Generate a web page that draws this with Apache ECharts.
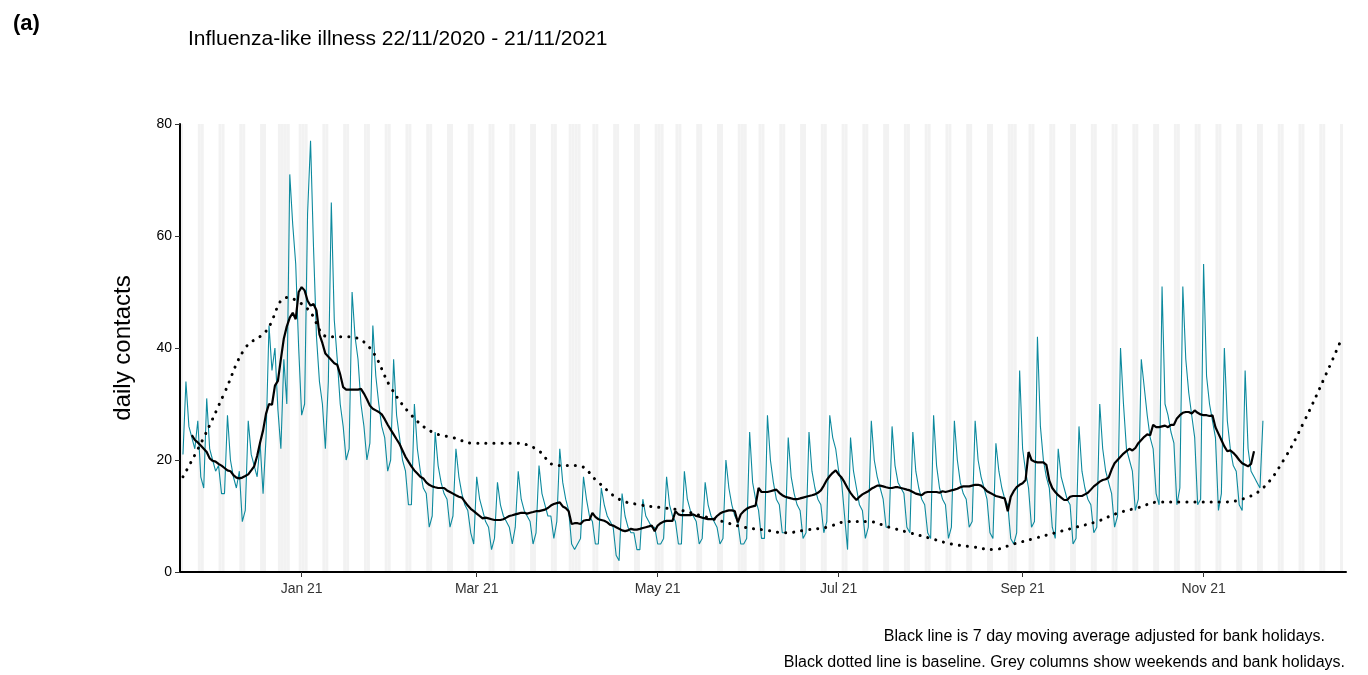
<!DOCTYPE html>
<html>
<head>
<meta charset="utf-8">
<script src="https://cdn.jsdelivr.net/npm/echarts@6/dist/echarts.min.js"></script>
<style>html,body{margin:0;padding:0;background:#fff;}#chart{width:1368px;height:675px;}</style>
</head>
<body>
<div id="chart"></div>
<script>
// daily contacts, Sun..Sat per week, from 22/11/2020
var dailyContacts = [
  21,34,26,24,22,27,17,  15,31,22,20,18,19,14,  14,28,20,17,15,18,9,   11,27,21,19,17,23,14,
  24,44,36,40,29,22,38,  30,71,62,55,40,28,30,  64,77,58,42,34,30,22,  34,66,45,38,30,26,20,
  22,50,42,38,30,26,20,  23,44,35,30,26,24,18,  20,38,28,24,20,18,12,  12,30,22,18,15,14,8,
  10,25,19,16,14,13,8,   10,22,17,14,12,11,7,   5,17,13,11,9,8,4,      6,16,12,10,9,8,5,
  8,18,13,11,10,9,5,     7,19,14,12,10,10,6,    9,22,16,13,11,5,4,     5,6,17,13,10,9,5,
  5,15,12,10,9,8,3,      2,14,10,8,7,7,4,       4,13,10,9,8,8,5,       5,6,17,12,10,9,5,
  5,18,13,11,10,9,5,     6,16,12,10,9,8,5,      6,20,15,12,10,9,5,     5,6,25,16,13,11,6,
  6,28,20,16,13,12,7,    7,24,17,14,12,11,6,    7,25,18,15,13,12,7,    9,28,24,22,18,16,10,
  4,24,18,15,12,11,6,    8,27,20,17,15,13,8,    8,26,19,16,15,14,8,    7,25,18,15,13,12,7,
  6,28,19,15,13,12,6,    8,27,20,16,14,13,8,    9,27,20,17,15,13,7,    6,23,18,15,13,12,6,
  5,7,36,22,18,15,8,     9,42,26,20,17,15,8,    6,22,17,15,13,12,5,    6,26,18,15,13,12,7,
  8,30,22,18,16,14,8,    10,40,30,22,20,18,11,  13,38,33,28,24,22,14,  12,51,30,28,25,23,12,
  15,51,38,32,28,24,12,  13,55,35,30,27,24,11,  14,40,27,22,19,18,12,  11,36,22,18,17,16,15,
  27
];
// baseline, weekly from 22/11/2020 (last point 17/12/2021)
var baselineWeekly = [17,24,32,40,43,49,47,42,42,40,33,28,25,24,23,23,23,22,19,19,16,13,12,11.5,11,10,9,8,
  7.5,7,7.5,8,9,9,8,7,6,5,4.5,4,5,6,7,8,9,10.5,11.5,12.5,12.5,12.5,12.5,13,15,20,27,35];
var baselineLast = ['2021-12-17', 41];
var bankHolidays = ['2020-12-25','2020-12-28','2021-01-01','2021-04-02','2021-04-05','2021-05-03','2021-05-31','2021-08-30'];
var monthLabels = {'2021-01-01':'Jan 21','2021-03-01':'Mar 21','2021-05-01':'May 21','2021-07-01':'Jul 21','2021-09-01':'Sep 21','2021-11-01':'Nov 21'};

function fmt(d){ return d.toISOString().slice(0,10); }
var days = [], shadeDays = [];
var start = Date.UTC(2020,10,21), end = Date.UTC(2021,11,19);
for (var t = start; t <= end; t += 86400000) {
  var d = new Date(t), s = fmt(d);
  days.push(s);
  if (d.getUTCDay() === 0 || d.getUTCDay() === 6 || bankHolidays.indexOf(s) >= 0) shadeDays.push(days.length - 1);
}
var shade = shadeDays.filter(function(i){ return i > 0 && i < days.length - 1; })
  .map(function(i){ return [{xAxis:days[i-1]},{xAxis:days[i]}]; });
var off = 1; // data starts at 22/11/2020
var raw = [], ma = [], base = [];
dailyContacts.forEach(function(v,i){ raw.push([days[i+off], v]); });
for (var i = 3; i < dailyContacts.length - 3; i++) {
  var sum = 0; for (var k = -3; k <= 3; k++) sum += dailyContacts[i+k];
  ma.push([days[i+off], +(sum/7).toFixed(2)]);
}
baselineWeekly.forEach(function(v,i){ base.push([days[i*7+off], v]); });
base.push(baselineLast);

var chart = echarts.init(document.getElementById('chart'));
chart.setOption({
  animation:false,
  textStyle:{fontFamily:'Liberation Sans, Arial, sans-serif'},
  title:[
    {text:'(a)', left:8, top:8, textStyle:{fontSize:22, fontWeight:'bold', color:'#000'}},
    {text:'Influenza-like illness 22/11/2020 - 21/11/2021', left:183, top:24, textStyle:{fontSize:21, fontWeight:'normal', color:'#000'}},
    {text:'Black line is 7 day moving average adjusted for bank holidays.', right:38, top:624, textStyle:{fontSize:16, fontWeight:'normal', color:'#000'}},
    {text:'Black dotted line is baseline. Grey columns show weekends and bank holidays.', right:18, top:650, textStyle:{fontSize:16, fontWeight:'normal', color:'#000'}}
  ],
  grid:{left:180, right:22, top:124, bottom:103},
  xAxis:{type:'category', data:days, boundaryGap:false, z:10,
    axisLine:{lineStyle:{color:'#000', width:2}},
    axisTick:{length:5, lineStyle:{color:'#333'}, interval:function(i,v){return !!monthLabels[v];}},
    axisLabel:{interval:function(i,v){return !!monthLabels[v];}, formatter:function(v){return monthLabels[v]||'';}, color:'#333', fontSize:14, margin:10},
    splitLine:{show:false}},
  yAxis:{type:'value', min:0, max:80, interval:20, name:'daily contacts', nameLocation:'middle', nameGap:45, z:10,
    nameTextStyle:{fontSize:24, color:'#000'},
    axisLine:{show:true, lineStyle:{color:'#000', width:2}},
    axisTick:{show:true, length:5, lineStyle:{color:'#333'}},
    axisLabel:{color:'#000', fontSize:14}, splitLine:{show:false}},
  series:[
    {type:'line', data:raw, symbol:'none', lineStyle:{color:'#0d8a9e', width:1.1}, z:3,
      markArea:{silent:true, itemStyle:{color:'#f2f2f2'}, data:shade}},
    {type:'line', data:base, symbol:'none', smooth:0.4, lineStyle:{color:'#000', width:3, type:[0.1,8], cap:'round'}, z:4},
    {type:'line', data:ma, symbol:'none', lineStyle:{color:'#000', width:2.2}, z:5}
  ]
});
</script>
</body>
</html>
